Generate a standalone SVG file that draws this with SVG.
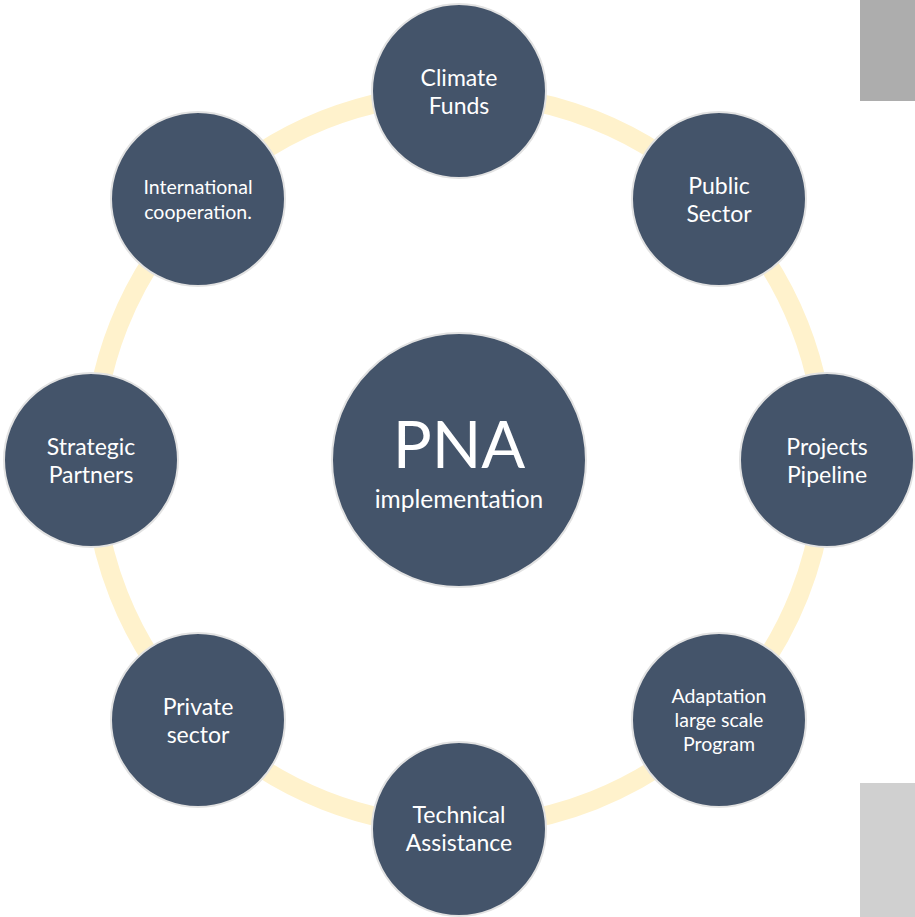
<svg xmlns="http://www.w3.org/2000/svg" width="915" height="917" viewBox="0 0 915 917">
<style>
.n{fill:#44546A;stroke:#E2E2E2;stroke-width:2}
.t{fill:#FFFFFF;font-family:Lato,"Open Sans",sans-serif;text-anchor:middle}
.l{font-size:23px}
.s{font-size:19.5px}
</style>
<rect width="915" height="917" fill="#FFFFFF"/>
<rect x="860" y="0" width="55" height="101" fill="#ADADAD"/>
<rect x="860" y="783" width="55" height="134" fill="#D0D0D0"/>
<g id="connectors">
<circle cx="459" cy="460" r="366" fill="none" stroke="#FFF2CC" stroke-width="19"/>
</g>
<g id="center">
<circle class="n" cx="459" cy="460" r="127"/>
<text class="t" x="459" y="468" font-size="65">PNA</text>
<text class="t" x="459" y="508" font-size="24.5">implementation</text>
</g>
<g id="climate-funds">
<circle class="n" cx="459" cy="91" r="87"/>
<text class="t l" x="459" y="86">Climate</text>
<text class="t l" x="459" y="114">Funds</text>
</g>
<g id="public-sector">
<circle class="n" cx="719" cy="199" r="87"/>
<text class="t l" x="719" y="194">Public</text>
<text class="t l" x="719" y="222">Sector</text>
</g>
<g id="projects-pipeline">
<circle class="n" cx="827" cy="460" r="87"/>
<text class="t l" x="827" y="455">Projects</text>
<text class="t l" x="827" y="483">Pipeline</text>
</g>
<g id="adaptation">
<circle class="n" cx="719" cy="720" r="87"/>
<text class="t s" x="719" y="703">Adaptation</text>
<text class="t s" x="719" y="727">large scale</text>
<text class="t s" x="719" y="751">Program</text>
</g>
<g id="technical-assistance">
<circle class="n" cx="459" cy="829" r="87"/>
<text class="t l" x="459" y="823">Technical</text>
<text class="t l" x="459" y="851">Assistance</text>
</g>
<g id="private-sector">
<circle class="n" cx="198" cy="720" r="87"/>
<text class="t l" x="198" y="715">Private</text>
<text class="t l" x="198" y="743">sector</text>
</g>
<g id="strategic-partners">
<circle class="n" cx="91" cy="460" r="87"/>
<text class="t l" x="91" y="455">Strategic</text>
<text class="t l" x="91" y="483">Partners</text>
</g>
<g id="international-cooperation">
<circle class="n" cx="198" cy="199" r="87"/>
<text class="t s" x="198" y="194">International</text>
<text class="t s" x="198" y="219">cooperation.</text>
</g>
</svg>
